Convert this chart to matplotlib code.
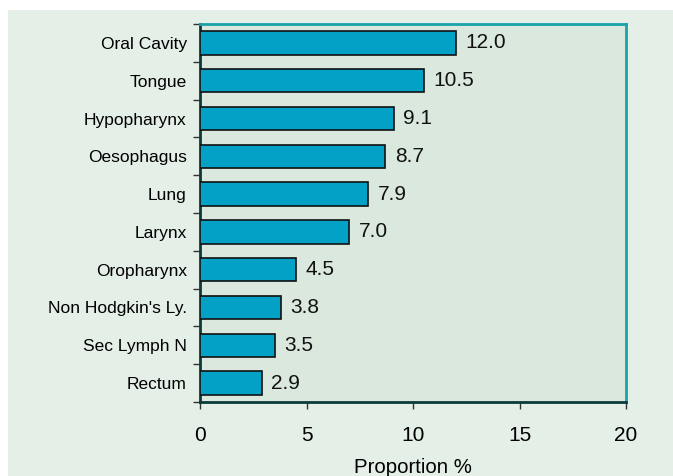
import matplotlib
matplotlib.use("Agg")
import matplotlib.pyplot as plt
from matplotlib.patches import Rectangle

categories = ["Oral Cavity", "Tongue", "Hypopharynx", "Oesophagus", "Lung",
              "Larynx", "Oropharynx", "Non Hodgkin's Ly.", "Sec Lymph N", "Rectum"]
values = [12.0, 10.5, 9.1, 8.7, 7.9, 7.0, 4.5, 3.8, 3.5, 2.9]
xticks = [0, 5, 10, 15, 20]

plt.rcParams['font.family'] = ['Liberation Sans', 'DejaVu Sans']

fig = plt.figure(figsize=(6.73, 4.76), dpi=100)
fig.patch.set_facecolor('white')
W, H = 673, 476
fig.patches.append(Rectangle((8 / W, 0), 1 - 8 / W, 1 - 10 / H, transform=fig.transFigure,
                             facecolor='#e4efe7', edgecolor='none', zorder=-10))

ax = fig.add_axes([200 / W, 1 - 402 / H, 426 / W, 378 / H])
ax.set_facecolor('#dbe8de')

n = len(categories)
ypos = list(range(n))
ax.barh(ypos, values, height=0.62, color='#03a1c6', edgecolor='#111111', linewidth=1.2, zorder=3)
for y, v in zip(ypos, values):
    ax.text(v + 0.45, y, f"{v:.1f}", va='center', ha='left', fontsize=15, color='#111111')

ax.set_ylim(n - 0.5, -0.5)
ax.set_xlim(0, 20)
ax.set_yticks(ypos)
ax.set_yticklabels(categories, fontsize=12.5)
ax.set_yticks([i - 0.5 for i in range(n + 1)], minor=True)
ax.tick_params(axis='y', which='major', length=0, pad=9.5)
ax.tick_params(axis='y', which='minor', length=5, width=1, direction='out', color='#333333')
ax.set_xticks(xticks)
ax.set_xticklabels([str(t) for t in xticks], fontsize=15)
ax.tick_params(axis='x', length=5, width=1, direction='out', pad=12, color='#333333')
ax.set_xlabel("Proportion %", fontsize=14.7, labelpad=9.5)

for s in ['top', 'right']:
    ax.spines[s].set_color('#19a2aa')
    ax.spines[s].set_linewidth(2)
for s in ['left', 'bottom']:
    ax.spines[s].set_color('#0c3a3a')
    ax.spines[s].set_linewidth(2)

fig.savefig("out.png", dpi=100, facecolor=fig.get_facecolor())
